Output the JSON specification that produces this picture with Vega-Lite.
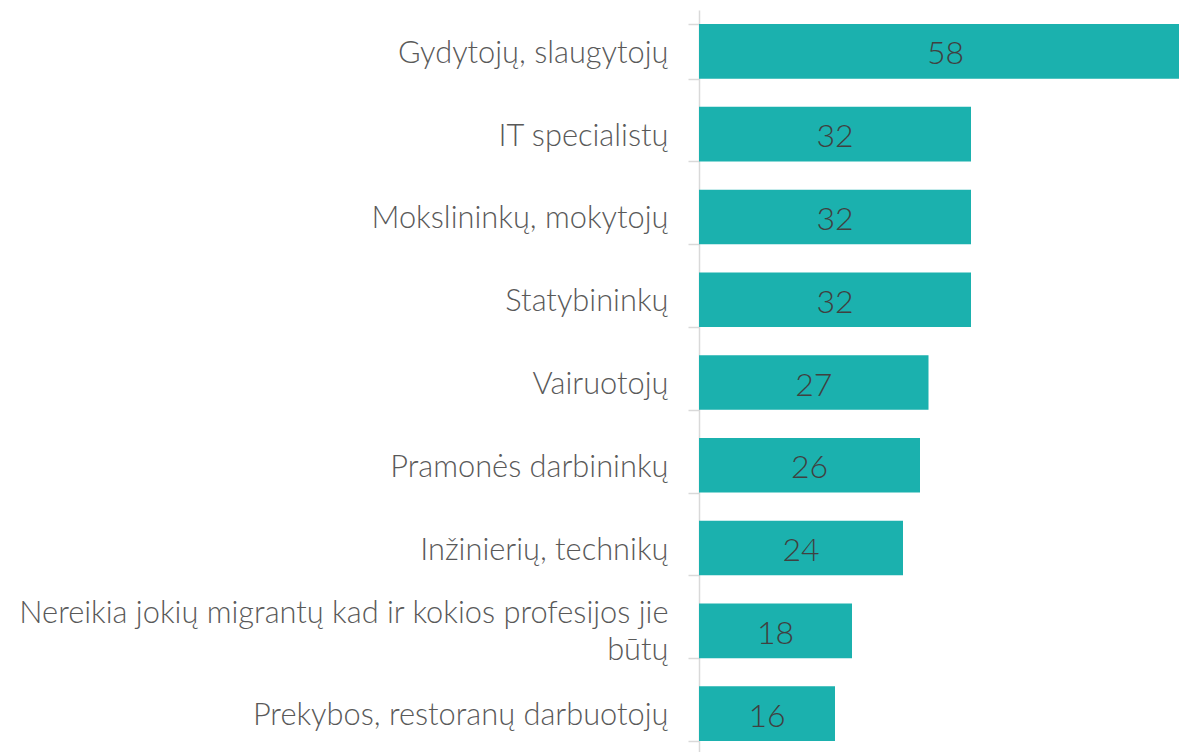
{
  "$schema": "https://vega.github.io/schema/vega-lite/v6.json",
  "width": 480,
  "height": 745,
  "autosize": {"type": "none"},
  "padding": {"left": 699, "top": 10, "right": 0, "bottom": 0},
  "background": "white",
  "config": {"view": {"stroke": null}},
  "data": {
    "values": [
      {"category": "Gydytojų, slaugytojų", "value": 58},
      {"category": "IT specialistų", "value": 32},
      {"category": "Mokslininkų, mokytojų", "value": 32},
      {"category": "Statybininkų", "value": 32},
      {"category": "Vairuotojų", "value": 27},
      {"category": "Pramonės darbininkų", "value": 26},
      {"category": "Inžinierių, technikų", "value": 24},
      {"category": "Nereikia jokių migrantų kad ir kokios profesijos jie|būtų", "value": 18},
      {"category": "Prekybos, restoranų darbuotojų", "value": 16}
    ]
  },
  "transform": [{"calculate": "datum.value / 2", "as": "mid"}],
  "encoding": {
    "y": {
      "field": "category",
      "type": "nominal",
      "sort": null,
      "scale": {"paddingInner": 0.34, "paddingOuter": 0.17},
      "axis": {
        "title": null,
        "labelExpr": "split(datum.label, '|')",
        "labelFont": "Lato",
        "labelFontWeight": 300,
        "labelFontSize": 30.8,
        "labelColor": "#595959",
        "labelLimit": 700,
        "labelPadding": 20,
        "labelLineHeight": 37,
        "labelOffset": {"condition": {"test": "datum.value === 'Nereikia jokių migrantų kad ir kokios profesijos jie|būtų'", "value": -17}, "value": 2},
        "tickBand": "extent",
        "tickSize": 11,
        "tickColor": "#d9d9d9",
        "tickWidth": 1.5,
        "domainColor": "#d9d9d9",
        "domainWidth": 1.5
      }
    }
  },
  "layer": [
    {
      "mark": {"type": "bar", "color": "#1bb1ae", "clip": true},
      "encoding": {
        "x": {
          "field": "value",
          "type": "quantitative",
          "scale": {"domain": [0, 56.47], "nice": false, "zero": true},
          "axis": null
        }
      }
    },
    {
      "mark": {"type": "text", "font": "Lato", "fontWeight": 300, "fontSize": 32, "color": "#404040", "align": "center", "baseline": "middle", "dy": 3},
      "encoding": {
        "x": {"field": "mid", "type": "quantitative"},
        "text": {"field": "value", "type": "quantitative"}
      }
    }
  ]
}
